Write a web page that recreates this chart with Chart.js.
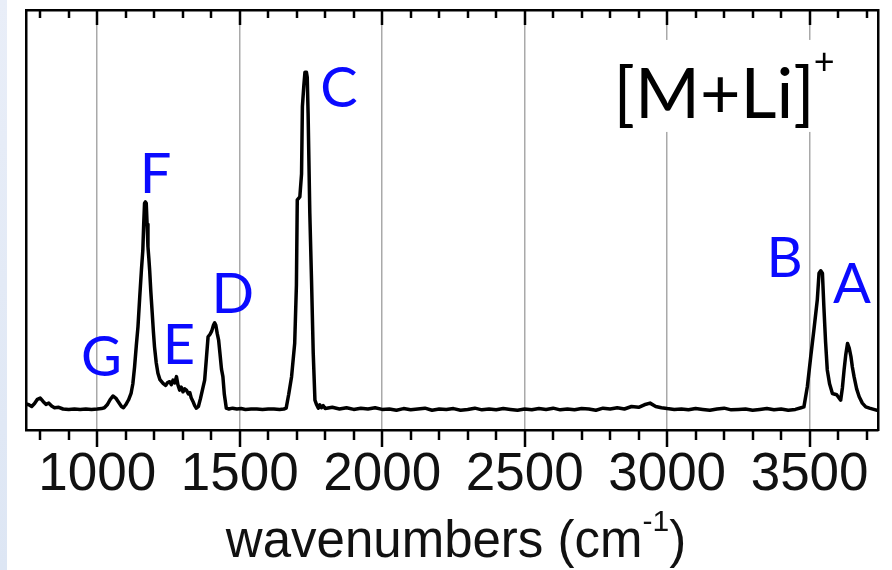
<!DOCTYPE html>
<html>
<head>
<meta charset="utf-8">
<script src="https://cdn.jsdelivr.net/npm/chart.js@4.4.1/dist/chart.umd.min.js"></script>
<style>
  html, body { margin: 0; padding: 0; background: #fff; }
  #wrap { position: relative; width: 892px; height: 570px; overflow: hidden; }
  #strip { position: absolute; left: 0; top: 0; width: 7px; height: 570px;
           background: linear-gradient(#e9eef8, #dde6f4); }
  canvas { position: absolute; left: 0; top: 0; }
</style>
</head>
<body>
<div id="wrap">
  <div id="strip"></div>
  <canvas id="ir" width="892" height="570"></canvas>
</div>
<script>
/* ---- IR spectrum of [M+Li]+ ---- */

const wavenumbers = [
  750, 760, 770, 780, 790, 800, 810, 820, 830, 840, 850, 865, 880, 900, 920, 940, 960, 980, 1000,
  1015, 1025, 1035, 1045, 1055, 1065, 1075, 1085, 1092, 1100, 1110, 1119, 1125, 1131, 1137, 1143,
  1149, 1155, 1160, 1163, 1166, 1169, 1172, 1175, 1178, 1181, 1184, 1188, 1193, 1197, 1201, 1207,
  1213, 1220, 1231, 1240, 1247, 1254, 1260, 1266, 1272, 1278, 1283, 1289, 1295, 1301, 1307, 1313,
  1320, 1325, 1330, 1336, 1342, 1348, 1355, 1362, 1370, 1377, 1383, 1389, 1396, 1402, 1408, 1412,
  1416, 1421, 1426, 1431, 1436, 1441, 1446, 1453, 1462, 1475, 1490, 1505, 1520, 1540, 1560, 1580,
  1600, 1620, 1640, 1655, 1663, 1672, 1682, 1693, 1699, 1702, 1711, 1717, 1720, 1725, 1729, 1734,
  1737, 1740, 1746, 1752, 1758, 1764, 1770, 1776, 1781, 1787, 1793, 1800,
  1825, 1850, 1875, 1900, 1925, 1950, 1975, 2000, 2025, 2050, 2075, 2100, 2125, 2150, 2175, 2200,
  2225, 2250, 2275, 2300, 2325, 2350, 2375, 2400, 2425, 2450, 2475, 2500, 2525, 2550, 2575, 2600,
  2625, 2650, 2675, 2700, 2725, 2750, 2775, 2800, 2825, 2850, 2875, 2900, 2920, 2940, 2960, 2980,
  3000, 3025, 3050, 3075, 3100, 3125, 3150, 3175, 3200, 3225, 3250, 3275, 3300, 3325, 3350, 3375,
  3400, 3425, 3450, 3470, 3480, 3492, 3504, 3515, 3527, 3533, 3539, 3545, 3550, 3556, 3562, 3570,
  3580, 3595, 3609, 3615, 3621, 3627, 3633, 3639, 3645, 3650, 3656, 3665, 3674, 3685, 3697, 3710,
  3725, 3740
];

const intensity = [
  6.2, 6.0, 5.6, 6.3, 7.3, 7.6, 6.8, 6.1, 6.4, 5.7, 5.3, 5.4, 5.0, 4.9, 5.0, 4.9, 5.0, 4.9, 5.0,
  5.1, 5.3, 6.0, 7.2, 8.1, 7.6, 6.6, 5.6, 5.3, 6.0, 7.2, 8.8, 11.0, 15.0, 20.0, 24.6,
  31.5, 38.0, 42.8, 49.0, 54.0, 54.3, 54.0, 49.0, 43.6, 41.0, 38.0, 33.0, 27.8, 23.5, 19.8, 16.0,
  13.5, 12.0, 11.1, 10.6, 11.3, 11.5, 10.8, 11.9, 11.2, 12.7, 10.8, 9.5, 10.2, 9.1, 9.8, 9.5,
  8.6, 8.9, 7.6, 6.8, 5.8, 5.2, 5.6, 7.4, 9.8, 11.9, 17.0, 22.2, 22.8, 23.6, 25.0, 25.5,
  25.0, 23.0, 21.4, 18.0, 14.5, 12.7, 8.5, 5.2, 5.0, 5.2, 5.0, 5.1, 4.9, 5.0, 5.0, 4.9,
  5.0, 5.0, 4.9, 5.0, 5.2, 8.5, 12.7, 20.7, 34.5, 54.8, 55.5, 61.0, 77.0, 82.0, 85.2, 85.2,
  84.0, 75.4, 51.6, 35.7, 18.3, 7.1, 6.0, 5.2, 6.0, 5.3, 5.8, 5.1,
  5.4, 5.0, 5.3, 4.9, 5.2, 5.0, 5.3, 4.9, 5.0, 4.7, 5.1, 4.8, 5.0, 5.2, 4.7, 5.0,
  4.9, 5.1, 4.7, 4.9, 5.2, 4.8, 5.0, 4.8, 5.1, 4.9, 4.7, 5.0, 4.8, 5.1, 4.9, 5.2,
  4.8, 5.0, 4.8, 5.1, 5.0, 4.7, 5.2, 5.0, 5.3, 5.0, 5.6, 5.4, 6.0, 6.4, 5.6, 5.3,
  5.1, 4.9, 5.0, 4.8, 5.1, 4.9, 4.7, 5.0, 5.2, 4.8, 4.9, 5.0, 4.7, 4.9, 5.1, 4.8,
  5.0, 4.7, 4.9, 5.3, 5.5, 10.3, 17.5, 23.8, 31.0, 37.3, 37.9, 37.3, 29.4, 21.0, 14.3, 11.0,
  8.7, 8.4, 7.1, 10.0, 14.3, 18.0, 20.6, 19.5, 17.5, 15.0, 12.7, 9.8, 7.9, 6.4, 5.5, 5.2,
  4.9, 4.6
];

// every 100 cm-1 a tick, labelled ones every 500
const tickValues = [
  800, 900, 1000, 1100, 1200, 1300, 1400, 1500, 1600, 1700, 1800, 1900, 2000, 2100, 2200,
  2300, 2400, 2500, 2600, 2700, 2800, 2900, 3000, 3100, 3200, 3300, 3400, 3500, 3600, 3700
];
const tickLabels = ['1000', '1500', '2000', '2500', '3000', '3500'];

// peak letters and where they sit (wavenumber, intensity)
const peakNames = ['A', 'B', 'C', 'D', 'E', 'F', 'G'];
const peakNameX = [3649, 3412, 1848, 1476, 1287, 1205, 1015];
const peakNameY = [30.2, 36.5, 77.0, 27.8, 15.8, 56.4, 12.9];

const AXIS_FONT = '"Liberation Sans", Arial, sans-serif';
const NOTE_FONT = 'Lato, "Open Sans", sans-serif';

const isMajor = v => tickLabels.includes(String(v));

// minor ticks + inward top ticks, placed with the x and y scales
const tickMarks = {
    id: 'tickMarks',
    afterDraw(chart) {
        const { ctx, scales: { x, y } } = chart;
        const top = y.getPixelForValue(100), bottom = y.getPixelForValue(0);
        ctx.save();
        ctx.strokeStyle = '#000';
        ctx.lineWidth = 2.5;
        ctx.lineCap = 'butt';
        tickValues.forEach(v => {
            const px = Math.round(x.getPixelForValue(v));
            const major = isMajor(v);
            ctx.beginPath();
            ctx.moveTo(px, top);
            ctx.lineTo(px, top + (major ? 15 : 8));
            ctx.stroke();
            ctx.beginPath();
            ctx.moveTo(px, bottom);
            ctx.lineTo(px, bottom + (major ? 17 : 10));
            ctx.stroke();
        });
        ctx.restore();
    }
};

// blue peak letters, the [M+Li]+ note and the axis title
const notes = {
    id: 'notes',
    afterDraw(chart) {
        const { ctx, chartArea: a, scales: { x, y } } = chart;
        ctx.save();
        ctx.fillStyle = '#0a0aff';
        ctx.font = `56px ${NOTE_FONT}`;
        ctx.textAlign = 'center';
        ctx.textBaseline = 'alphabetic';
        peakNames.forEach((n, i) => {
            ctx.fillText(n, x.getPixelForValue(peakNameX[i]), y.getPixelForValue(peakNameY[i]));
        });

        // species label, white box hides the grid behind it
        const lx = x.getPixelForValue(2812), ly = y.getPixelForValue(74.3);
        ctx.font = `70px ${NOTE_FONT}`;
        ctx.textAlign = 'left';
        const w = ctx.measureText('[M+Li]').width;
        ctx.fillStyle = '#fff';
        ctx.fillRect(lx - 4, ly - 78, w + 30, 92);
        ctx.fillStyle = '#000';
        ctx.fillText('[M+Li]', lx, ly);
        ctx.font = `36px ${NOTE_FONT}`;
        ctx.fillText('+', lx + w - 1, ly - 44);

        // x axis title with raised -1
        ctx.fillStyle = '#111';
        const main = 'wavenumbers (cm', sup = '-1', close = ')';
        ctx.font = `51px ${AXIS_FONT}`;
        const w1 = ctx.measureText(main).width, w3 = ctx.measureText(close).width;
        ctx.font = `30px ${AXIS_FONT}`;
        const w2 = ctx.measureText(sup).width;
        const tx = (a.left + a.right) / 2 - (w1 + w2 + w3) / 2 + 4;
        const base = 557;
        ctx.font = `51px ${AXIS_FONT}`;
        ctx.fillText(main, tx, base);
        ctx.font = `30px ${AXIS_FONT}`;
        ctx.fillText(sup, tx + w1, base - 26);
        ctx.font = `51px ${AXIS_FONT}`;
        ctx.fillText(close, tx + w1 + w2, base);
        ctx.restore();
    }
};

const frameAxis = (pos, size) => ({
    type: 'linear', position: pos, min: 0, max: 100,
    afterFit: s => { if (pos === 'top') s.height = size; else s.width = size; },
    ticks: { display: false },
    grid: { drawOnChartArea: false, drawTicks: false },
    border: { color: '#000', width: 2.5 }
});

new Chart(document.getElementById('ir'), {
    type: 'line',
    data: {
        datasets: [{
            data: wavenumbers.map((w, i) => ({ x: w, y: intensity[i] })),
            borderColor: '#000', borderWidth: 3.5, pointRadius: 0,
            tension: 0, fill: false, borderJoinStyle: 'round'
        }]
    },
    options: {
        responsive: false, animation: false, devicePixelRatio: 1,
        layout: { padding: 0 },
        plugins: { legend: { display: false }, tooltip: { enabled: false } },
        scales: {
            x: {
                type: 'linear', position: 'bottom', min: 750, max: 3740,
                afterBuildTicks: s => { s.ticks = tickValues.map(v => ({ value: v })); },
                afterFit: s => { s.height = 140; },
                ticks: {
                    autoSkip: false, maxRotation: 0, minRotation: 0, padding: -3,
                    callback: v => isMajor(v) ? String(v) : '',
                    color: '#111', font: { family: AXIS_FONT, size: 53 }
                },
                grid: {
                    color: c => c.tick && isMajor(c.tick.value) ? '#a9a9a9' : 'rgba(0,0,0,0)',
                    lineWidth: 1.5,
                    tickLength: 17,
                    tickColor: 'rgba(0,0,0,0)'
                },
                border: { color: '#000', width: 2.5 }
            },
            xTop: Object.assign(frameAxis('top', 10), { min: 750, max: 3740 }),
            y: frameAxis('left', 26),
            yR: frameAxis('right', 14)
        }
    },
    plugins: [tickMarks, notes]
});
</script>
</body>
</html>
